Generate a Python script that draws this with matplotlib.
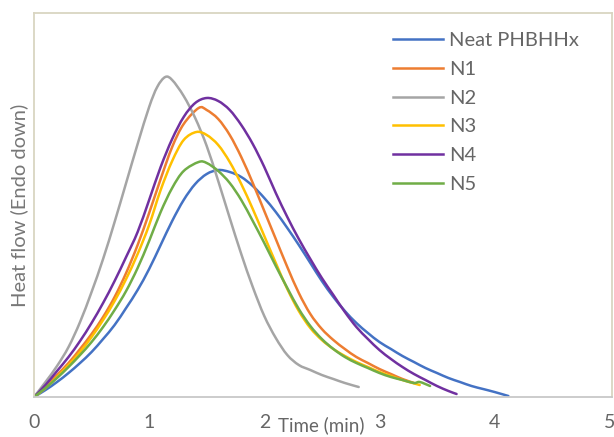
import matplotlib
matplotlib.use("Agg")
import matplotlib.pyplot as plt
from matplotlib.lines import Line2D
from matplotlib.path import Path
from matplotlib.patches import PathPatch

plt.rcParams['font.family'] = ['Lato', 'DejaVu Sans']

# ---- data (time in min, heat flow in arbitrary units) ----
neat_x = [0, 0.1, 0.2, 0.3, 0.4, 0.5, 0.6, 0.7, 0.8, 0.9, 1.0, 1.1, 1.2, 1.3, 1.4, 1.5, 1.6,
          1.7, 1.8, 1.9, 2.0, 2.1, 2.2, 2.3, 2.4, 2.5, 2.6, 2.7, 2.8, 2.9, 3.0, 3.1, 3.2,
          3.3, 3.4, 3.5, 3.6, 3.7, 3.8, 3.9, 4.0, 4.12]
neat_y = [0, 7, 15, 24, 34, 45, 58, 72, 89, 107, 128, 152, 176, 197, 213, 223, 227,
          225, 220, 211, 199, 185, 169, 152, 134, 116, 100, 86, 74, 64, 55, 48, 41,
          35, 29, 24, 19, 15, 11, 8, 5, 1]

n1_x = [0, 0.1, 0.2, 0.3, 0.4, 0.5, 0.6, 0.7, 0.8, 0.9, 1.0, 1.1, 1.2, 1.3, 1.43,
        1.5, 1.6, 1.7, 1.8, 1.9, 2.0, 2.1, 2.2, 2.3, 2.4, 2.5, 2.6, 2.7, 2.8, 2.9,
        3.0, 3.1, 3.2, 3.3]
n1_y = [0, 10, 22, 34, 48, 63, 80, 100, 124, 152, 184, 218, 250, 273, 289,
        287, 278, 262, 240, 214, 186, 158, 130, 104, 83, 68, 57, 48, 40, 34,
        28, 23, 18, 14]

n2_x = [0, 0.1, 0.2, 0.3, 0.4, 0.5, 0.6, 0.7, 0.8, 0.9, 1.0, 1.07, 1.14,
        1.2, 1.3, 1.4, 1.5, 1.6, 1.7, 1.8, 1.9, 2.0, 2.1, 2.2, 2.3, 2.4, 2.5, 2.6, 2.7, 2.82]
n2_y = [0, 15, 31, 50, 75, 105, 138, 175, 214, 253, 290, 310, 320,
        317, 301, 279, 251, 216, 179, 143, 110, 81, 59, 42, 32, 27, 22, 18, 14, 10]

n3_x = [0, 0.1, 0.2, 0.3, 0.4, 0.5, 0.6, 0.7, 0.8, 0.9, 1.0, 1.1, 1.2, 1.3, 1.41,
        1.5, 1.6, 1.7, 1.8, 1.9, 2.0, 2.1, 2.2, 2.3, 2.4, 2.5, 2.6, 2.7, 2.8, 2.9,
        3.0, 3.1, 3.2, 3.35]
n3_y = [0, 9, 20, 32, 45, 60, 77, 96, 118, 143, 172, 207, 236, 257, 265,
        262, 252, 235, 213, 188, 161, 134, 108, 86, 69, 57, 48, 41, 35, 30,
        25, 21, 17, 12]

n4_x = [0, 0.1, 0.2, 0.3, 0.4, 0.5, 0.6, 0.7, 0.8, 0.9, 1.0, 1.1, 1.2, 1.3, 1.4, 1.5,
        1.6, 1.7, 1.8, 1.9, 2.0, 2.1, 2.2, 2.3, 2.4, 2.5, 2.6, 2.7, 2.8, 2.9, 3.0,
        3.1, 3.2, 3.3, 3.4, 3.5, 3.6, 3.67]
n4_y = [0, 12, 26, 40, 56, 74, 94, 116, 140, 165, 197, 230, 258, 280, 294, 299,
        296, 287, 272, 253, 230, 204, 180, 158, 138, 119, 102, 85, 70, 58, 47,
        38, 30, 23, 17, 11, 6, 3]

n5_x = [0, 0.1, 0.2, 0.3, 0.4, 0.5, 0.6, 0.7, 0.8, 0.9, 1.0, 1.1, 1.2, 1.3, 1.43,
        1.5, 1.6, 1.7, 1.8, 1.9, 2.0, 2.1, 2.2, 2.3, 2.4, 2.5, 2.6, 2.7, 2.8, 2.9,
        3.0, 3.1, 3.2, 3.3, 3.35, 3.44]
n5_y = [0, 9, 19, 30, 42, 55, 70, 87, 106, 129, 156, 185, 209, 226, 235,
        234, 226, 214, 197, 176, 154, 131, 109, 88, 71, 58, 48, 40, 34, 29,
        24, 20, 17, 14, 15, 11]

series_names = ["Neat PHBHHx", "N1", "N2", "N3", "N4", "N5"]
series_x = [neat_x, n1_x, n2_x, n3_x, n4_x, n5_x]
series_y = [neat_y, n1_y, n2_y, n3_y, n4_y, n5_y]
colors = ["#4472C4", "#ED7D31", "#A5A5A5", "#FFC000", "#7030A0", "#70AD47"]

x_ticks = [0, 1, 2, 3, 4, 5]


def smooth_path(xs, ys):
    """Excel-style smoothed line: cubic Bezier segments through the data points."""
    pts = list(zip(xs, ys))
    n = len(pts)
    verts = [pts[0]]
    codes = [Path.MOVETO]
    for i in range(n - 1):
        p0 = pts[i - 1] if i > 0 else pts[i]
        p1 = pts[i]
        p2 = pts[i + 1]
        p3 = pts[i + 2] if i + 2 < n else pts[i + 1]
        c1 = (p1[0] + (p2[0] - p0[0]) / 6, p1[1] + (p2[1] - p0[1]) / 6)
        c2 = (p2[0] - (p3[0] - p1[0]) / 6, p2[1] - (p3[1] - p1[1]) / 6)
        verts += [c1, c2, p2]
        codes += [Path.CURVE4] * 3
    return Path(verts, codes)


W, H = 614, 437
fig = plt.figure(figsize=(W / 100, H / 100), dpi=100)
left, right, top, bottom = 34, 612, 13, 397
ax = fig.add_axes([left / W, (H - bottom) / H, (right - left) / W, (bottom - top) / H])

handles = []
for xs, ys, c, name in zip(series_x, series_y, colors, series_names):
    patch = PathPatch(smooth_path(xs, ys), facecolor='none', edgecolor=c, lw=1.8,
                      capstyle='round', joinstyle='round', transform=ax.transData)
    ax.add_patch(patch)
    handles.append(Line2D([], [], color=c, lw=1.8, label=name))

ax.set_xlim(0, 5.02)
ax.set_ylim(0, 384)
ax.set_xticks(x_ticks)
ax.set_xticklabels([str(t) for t in x_ticks])
ax.set_yticks([])
ax.tick_params(axis='x', length=0, pad=12, labelsize=14, labelcolor='#666666')

frame_c = '#D9D5C1'
for s in ['left', 'top', 'right']:
    ax.spines[s].set_color(frame_c)
    ax.spines[s].set_linewidth(1.3)
ax.spines['bottom'].set_color('#C8C8C8')
ax.spines['bottom'].set_linewidth(1.3)

ax.set_ylabel("Heat flow (Endo down)", fontsize=14.5, color='#777777', labelpad=4)

fig.text(321 / W, 1 - 425 / H, "Time (min)", fontsize=13.5, color='#666666', ha='center', va='center')

leg = ax.legend(handles=handles, loc='upper left', bbox_to_anchor=(393 / W, 1 - 32 / H),
                bbox_transform=fig.transFigure, frameon=False, fontsize=14.5,
                handlelength=2.5, handletextpad=0.3, labelspacing=0.58, borderpad=0,
                borderaxespad=0)
for t in leg.get_texts():
    t.set_color('#666666')

fig.savefig("out.png", dpi=100)
